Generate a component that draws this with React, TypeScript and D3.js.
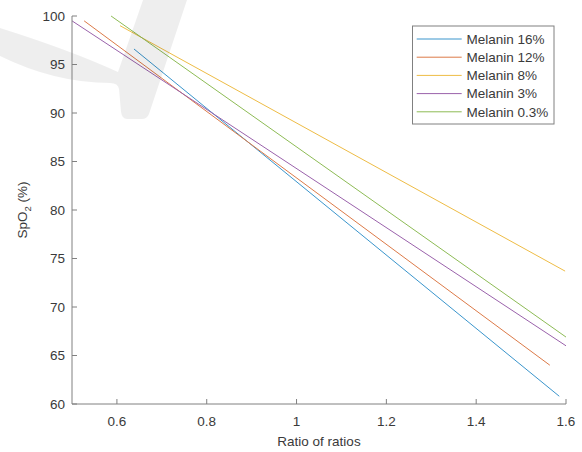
import React from "react";
import * as d3 from "d3";

const seriesNames = ["Melanin 16%", "Melanin 12%", "Melanin 8%", "Melanin 3%", "Melanin 0.3%"];
const seriesColors = ["#3a95cc", "#dc7a48", "#eebc45", "#9a62ab", "#8dbb55"];
const ratioValues = [
  [0.638, 1.585],
  [0.527, 1.564],
  [0.607, 1.598],
  [0.5, 1.6],
  [0.587, 1.6],
];
const spo2Values = [
  [96.6, 60.8],
  [99.5, 64.0],
  [99.0, 73.7],
  [99.5, 66.0],
  [100.0, 66.9],
];
const xTicks = [0.6, 0.8, 1, 1.2, 1.4, 1.6];
const yTicks = [60, 65, 70, 75, 80, 85, 90, 95, 100];

const W = 582;
const H = 452;
const left = 72;
const right = 566;
const top = 16;
const bottom = 404;
const font = "'Liberation Sans', Arial, sans-serif";

export default function App() {
  const x = d3.scaleLinear().domain([0.5, 1.6]).range([left, right]);
  const y = d3.scaleLinear().domain([60, 100]).range([bottom, top]);
  const line = d3
    .line<[number, number]>()
    .x((d) => x(d[0]))
    .y((d) => y(d[1]));
  const axisColor = "#808080";
  const textColor = "#3a3a3a";
  const legX = 412.5;
  const legY = 26;
  const rowH = 18.2;

  return (
    <svg
      width={W}
      height={H}
      style={{ position: "absolute", left: 0, top: 0, background: "#fff" }}
      fontFamily={font}
    >
      <rect x={0} y={0} width={W} height={H} fill="#fff" />
      {seriesNames.map((name, i) => {
        const pts: [number, number][] = ratioValues[i].map((r, j) => [r, spo2Values[i][j]]);
        return (
          <path key={name} d={line(pts) || ""} fill="none" stroke={seriesColors[i]} strokeWidth={1} />
        );
      })}
      {/* watermark */}
      <path
        d="M0,28 Q70,50 118,72 L143,0 L187,0 L149,114 Q147,119 142,119 L127,119 Q122,119 121,112 L119,89 Q118,83 110,83 Q55,83 0,56 Z"
        fill="#000"
        fillOpacity={0.065}
      />
      {/* axes */}
      <line x1={left} y1={top} x2={left} y2={bottom} stroke={axisColor} strokeWidth={1} />
      <line x1={left} y1={bottom} x2={right} y2={bottom} stroke={axisColor} strokeWidth={1} />
      {yTicks.map((t) => (
        <g key={"y" + t}>
          <line x1={left} x2={left + 5} y1={y(t)} y2={y(t)} stroke={axisColor} />
          <text
            x={left - 7}
            y={y(t)}
            dy="0.36em"
            textAnchor="end"
            fontSize={13.5}
            fill={textColor}
          >
            {t}
          </text>
        </g>
      ))}
      {xTicks.map((t) => (
        <g key={"x" + t}>
          <line x1={x(t)} x2={x(t)} y1={bottom} y2={bottom - 5} stroke={axisColor} />
          <text x={x(t)} y={426} textAnchor="middle" fontSize={13.5} fill={textColor}>
            {t}
          </text>
        </g>
      ))}
      <text x={(left + right) / 2} y={446} textAnchor="middle" fontSize={13.5} fill={textColor}>
        Ratio of ratios
      </text>
      <text
        transform={`translate(27,${(top + bottom) / 2}) rotate(-90)`}
        textAnchor="middle"
        fontSize={13.5}
        fill={textColor}
      >
        SpO<tspan fontSize={9.5} dy={4}>2</tspan>
        <tspan dy={-4}> (%)</tspan>
      </text>
      {/* legend */}
      <rect
        x={legX}
        y={legY}
        width={141.5}
        height={98}
        fill="#fff"
        stroke={axisColor}
        strokeWidth={1}
      />
      {seriesNames.map((name, i) => {
        const ry = 39 + i * rowH;
        return (
          <g key={"leg" + name}>
            <line x1={416.7} x2={461.7} y1={ry} y2={ry} stroke={seriesColors[i]} strokeWidth={1} />
            <text x={466.5} y={ry} dy="0.36em" fontSize={13.5} fill={textColor}>
              {name}
            </text>
          </g>
        );
      })}
    </svg>
  );
}
